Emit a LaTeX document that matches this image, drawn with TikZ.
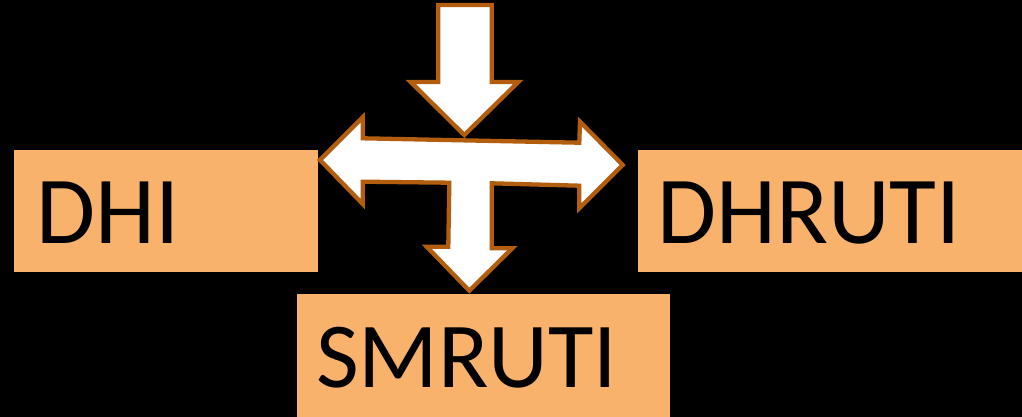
\documentclass[tikz,border=0pt]{standalone}
\usepackage{fontspec}
\setmainfont{Carlito}
\definecolor{boxfill}{HTML}{F9B26B}
\definecolor{arrowline}{HTML}{B25E0E}
\begin{document}
\begin{tikzpicture}[x=1pt,y=-1pt,
  box/.style={fill=boxfill,draw=none,inner sep=0pt,anchor=north west},
  lbl/.style={anchor=base west,inner sep=0pt,font=\fontsize{96}{110}\selectfont,text=black},
  arr/.style={fill=white,draw=arrowline,line width=4.3pt,line join=miter}]
\fill[black] (0,0) rectangle (1022,417);
\useasboundingbox (0,0) rectangle (1022,417);
% boxes
\node[box,minimum width=304pt,minimum height=122pt] (dhi) at (14,150) {};
\node[box,minimum width=384pt,minimum height=122pt] (dhruti) at (638,150) {};
\node[box,minimum width=373pt,minimum height=123pt] (smruti) at (297,294) {};
\node[lbl] (tdhi) at (36,243) {DHI};
\node[lbl] (tdhruti) at (657,243) {DHRUTI};
\node[lbl,font=\fontsize{93}{110}\selectfont] (tsmruti) at (316,387) {SMRUTI};
% top down arrow
\draw[arr] (438.3,5) -- (491.7,5) -- (491.7,82) -- (518.3,82) -- (464.3,135)
  -- (410.7,82) -- (438.3,82) -- cycle;
% left-right-down arrow
\draw[arr] (320,160) -- (362.7,117.3) -- (362.7,138.3) -- (579.3,142.7)
  -- (580,121.7) -- (622.7,165) -- (579.3,208.3) -- (579.3,185.7)
  -- (491.7,183.3) -- (491.7,248.3) -- (512.3,248.3) -- (469.3,290.7)
  -- (426.7,246.7) -- (448.3,246.7) -- (449.3,182.7) -- (362.7,181.7)
  -- (362.7,204) -- cycle;
\end{tikzpicture}
\end{document}
